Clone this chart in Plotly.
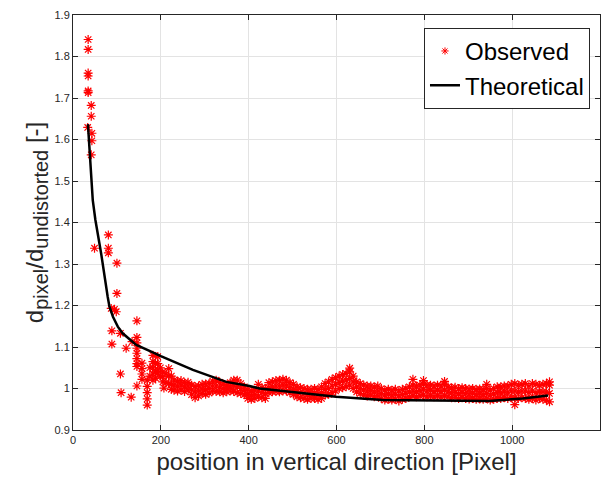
import plotly.graph_objects as go

# Theoretical curve
theo_x = [34, 45, 51, 64, 79, 83, 91, 102, 113, 133, 144, 178, 200, 273, 349, 402, 425, 478,
          599, 705, 857, 948, 1024, 1082]
theo_y = [1.637, 1.454, 1.406, 1.326, 1.221, 1.197, 1.173, 1.149, 1.133, 1.114, 1.105, 1.089,
          1.078, 1.045, 1.016, 1.006, 1.000, 0.994, 0.980, 0.972, 0.971, 0.970, 0.976, 0.983]

# Observed data: x positions and the y values observed at each
obs_x = [33.5, 34.5, 41.5, 43, 49, 80.5, 87, 88.5, 94.5, 98.5, 100, 108, 109.5, 121, 132.5,
         134.5, 145.5, 157, 169, 175, 182, 188, 193, 199, 204.5, 207, 212, 218, 224,
         230, 238, 246, 254, 262, 270, 278, 286, 294, 302, 310, 318, 326, 334, 342, 350,
         358, 366, 374, 382, 390, 398, 406, 414, 422, 430, 438, 446, 454, 462, 470, 478,
         486, 494, 502, 510, 518, 526, 534, 542, 550, 558, 566, 574, 582, 590, 598, 606,
         614, 622, 630, 638, 646, 654, 662, 670, 678, 686, 694, 702, 710, 718, 726, 734,
         742, 750, 758, 766, 774, 782, 790, 798, 806, 814, 822, 830, 838, 846, 854, 862,
         870, 878, 886, 894, 902, 910, 918, 926, 934, 942, 950, 958, 966, 974, 982, 990,
         998, 1006, 1014, 1022, 1030, 1038, 1046, 1054, 1062, 1070, 1078, 1085]
obs_y = [
    [1.629], [1.841, 1.817, 1.760, 1.753, 1.717, 1.713], [1.682, 1.656, 1.563], [1.615, 1.597],
    [1.338], [1.370, 1.338, 1.327], [1.193], [1.139, 1.107], [1.191], [1.185], [1.302, 1.229],
    [1.133, 1.035], [0.990], [1.097], [0.979], [1.113],
    [1.163, 1.123, 1.110, 1.097, 1.085, 1.072, 1.060, 1.053, 1.006],
    [1.061, 1.048, 1.035, 1.022], [1.020, 1.005, 0.990, 0.975, 0.960], [1.050, 1.030],
    [1.080, 1.065, 1.050, 1.035, 1.020], [1.060, 1.040, 1.025], [1.077, 1.060, 1.045, 1.037],
    [1.050, 1.030], [1.040, 1.028, 1.016], [1.001], [1.035, 1.015], [1.048, 1.030, 1.012],
    [1.030, 1.010, 0.998],
    [0.996, 1.008, 1.020], [0.994, 1.006, 1.018], [0.996, 1.008, 1.019], [0.993, 1.004, 1.014],
    [0.996, 1.006, 1.015], [0.985, 0.997, 1.008], [0.978, 0.992, 1.005], [0.982, 0.994, 1.006],
    [0.988, 0.999, 1.010], [0.986, 0.998, 1.011], [0.989, 1.000, 1.012], [0.994, 1.006, 1.018],
    [0.993, 1.006, 1.020], [0.992, 1.003, 1.015], [0.990, 1.000, 1.010], [0.992, 1.001, 1.008],
    [0.994, 1.004, 1.014], [0.993, 1.006, 1.020], [0.990, 1.005, 1.020], [0.988, 1.000, 1.012],
    [0.985, 0.995, 1.004], [0.976, 0.986, 0.997], [0.974, 0.984, 0.995], [0.976, 0.986, 0.996],
    [0.980, 0.994, 1.010], [0.978, 0.990, 1.002], [0.976, 0.988, 1.000], [0.990, 1.002, 1.014],
    [0.992, 1.004, 1.016], [0.993, 1.006, 1.019], [0.992, 1.006, 1.020], [0.994, 1.008, 1.022],
    [0.994, 1.008, 1.020], [0.990, 1.002, 1.014], [0.986, 0.998, 1.010], [0.980, 0.992, 1.004],
    [0.978, 0.990, 1.002], [0.976, 0.988, 1.000], [0.974, 0.986, 0.998], [0.976, 0.987, 0.998],
    [0.976, 0.988, 1.000], [0.974, 0.986, 0.998], [0.976, 0.990, 1.004], [0.984, 0.998, 1.012],
    [0.986, 1.000, 1.016], [0.990, 1.006, 1.022], [0.994, 1.010, 1.026], [1.000, 1.015, 1.030],
    [1.002, 1.018, 1.034], [1.004, 1.020, 1.036], [1.008, 1.024, 1.040, 1.049],
    [1.000, 1.016, 1.030], [0.992, 1.004, 1.016], [0.988, 1.000, 1.012], [0.984, 0.996, 1.008],
    [0.982, 0.994, 1.006], [0.984, 0.995, 1.006], [0.980, 0.992, 1.004], [0.982, 0.994, 1.006],
    [0.976, 0.988, 1.000], [0.972, 0.984, 0.996], [0.974, 0.986, 0.998], [0.972, 0.984, 0.996],
    [0.974, 0.986, 0.998], [0.970, 0.982, 0.994], [0.974, 0.986, 0.998], [0.976, 0.988, 1.000],
    [0.980, 0.992, 1.004], [0.982, 0.994, 1.008, 1.022], [0.980, 0.993, 1.006],
    [0.982, 0.995, 1.008], [0.984, 0.997, 1.010, 1.019], [0.980, 0.994, 1.008],
    [0.982, 0.995, 1.008], [0.980, 0.993, 1.006], [0.982, 0.995, 1.008], [0.980, 0.993, 1.006],
    [0.982, 0.996, 1.010, 1.017], [0.980, 0.992, 1.004], [0.978, 0.990, 1.002],
    [0.978, 0.990, 1.003], [0.976, 0.988, 1.000], [0.978, 0.990, 1.002], [0.976, 0.988, 1.000],
    [0.975, 0.987, 0.999], [0.976, 0.988, 1.000], [0.974, 0.986, 0.998], [0.975, 0.987, 0.999],
    [0.974, 0.986, 0.998], [0.976, 0.988, 1.000, 1.010], [0.972, 0.984, 0.996],
    [0.974, 0.987, 1.000], [0.976, 0.990, 1.004], [0.976, 0.990, 1.004], [0.978, 0.992, 1.006],
    [0.976, 0.991, 1.006], [0.978, 0.994, 1.010], [0.978, 0.994, 1.012, 0.961],
    [0.976, 0.992, 1.008], [0.978, 0.994, 1.010], [0.976, 0.994, 1.012], [0.974, 0.990, 1.006],
    [0.976, 0.994, 1.012], [0.972, 0.990, 1.010], [0.976, 0.992, 1.008], [0.974, 0.992, 1.010],
    [0.972, 0.992, 1.012], [0.968, 0.988, 1.008, 1.016],
]

x_ticks = [0, 200, 400, 600, 800, 1000, 1200]
y_ticks = [0.9, 1.0, 1.1, 1.2, 1.3, 1.4, 1.5, 1.6, 1.7, 1.8, 1.9]
y_tick_labels = ["0.9", "1", "1.1", "1.2", "1.3", "1.4", "1.5", "1.6", "1.7", "1.8", "1.9"]

px_list, py_list = [], []
for xv, ys in zip(obs_x, obs_y):
    for yv in ys:
        px_list.append(xv)
        py_list.append(yv)

FONT = "Liberation Sans, Arial, sans-serif"
AX = "#262626"
GRID = "#e3e3e3"

fig = go.Figure()
fig.add_trace(go.Scatter(
    x=px_list, y=py_list, mode="markers", name="Observed", showlegend=False,
    marker=dict(symbol="asterisk-open", size=7.5, color="red",
                line=dict(color="red", width=1.2)),
))
# legend entry for the observed data (smaller marker, as in the reference legend)
fig.add_trace(go.Scatter(
    x=[None], y=[None], mode="markers", name="Observed",
    marker=dict(symbol="asterisk-open", size=6, color="red",
                line=dict(color="red", width=1)),
))
fig.add_trace(go.Scatter(
    x=theo_x, y=theo_y, mode="lines", name="Theoretical",
    line=dict(color="black", width=2.5),
))

fig.update_layout(
    width=612, height=482,
    margin=dict(l=73, r=12, t=15, b=52),
    paper_bgcolor="white", plot_bgcolor="white",
    font=dict(family=FONT, color=AX),
    showlegend=True,
    legend=dict(
        x=0.981, y=0.969, xanchor="right", yanchor="top",
        bgcolor="white", bordercolor=AX, borderwidth=1,
        font=dict(size=24, color="black", family=FONT),
        tracegroupgap=0, itemwidth=30,
    ),
)
fig.update_xaxes(
    range=[0, 1200], tickvals=x_ticks, ticktext=[str(v) for v in x_ticks],
    showgrid=True, gridcolor=GRID, gridwidth=1, automargin=False,
    showline=True, linecolor=AX, linewidth=1, mirror="ticks",
    ticks="inside", ticklen=5, tickcolor=AX,
    tickfont=dict(size=11, color=AX), zeroline=False,
    title=dict(text="position in vertical direction [Pixel]", font=dict(size=24, color=AX), standoff=7),
)
fig.update_yaxes(
    range=[0.9, 1.9], tickvals=y_ticks, ticktext=y_tick_labels,
    showgrid=True, gridcolor=GRID, gridwidth=1, automargin=False,
    showline=True, linecolor=AX, linewidth=1, mirror="ticks",
    ticks="inside", ticklen=5, tickcolor=AX,
    tickfont=dict(size=11, color=AX), zeroline=False,
    title=dict(
        text=("d<sub><span style='font-size:20px'>pixel</span></sub>/"
              "d<sub><span style='font-size:20px'>undistorted</span></sub> [-]"),
        font=dict(size=24, color=AX), standoff=4),
)

fig.write_html("out.html")
